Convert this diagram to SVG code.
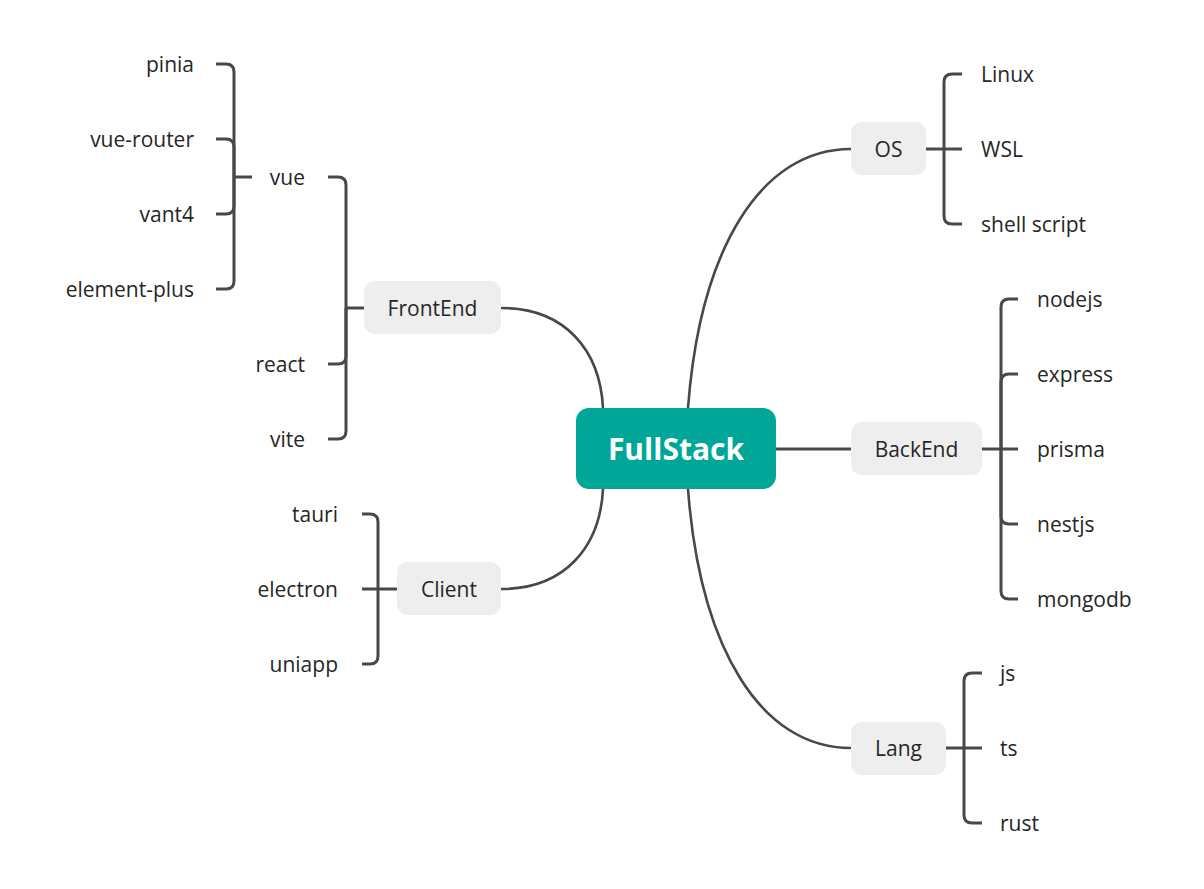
<svg xmlns="http://www.w3.org/2000/svg" width="1204" height="889" viewBox="0 0 1204 889">
<style>
.bg{fill:#ffffff}
.ln{fill:none;stroke:#484848;stroke-width:3;stroke-linecap:butt;stroke-linejoin:round}
.cv{fill:none;stroke:#484848;stroke-width:2.6}
.box{fill:#eeeeee}
.root{fill:#00a698}
.t{font-family:"Open Sans","Noto Sans","Liberation Sans",sans-serif;font-size:21px;fill:#262626}
.m{text-anchor:middle}
.e{text-anchor:end}
.rt{font-family:"Open Sans","Noto Sans","Liberation Sans",sans-serif;font-size:30px;font-weight:bold;fill:#ffffff;text-anchor:middle}
</style>
<rect class="bg" x="0" y="0" width="1204" height="889"/>
<g id="connectors">
<path class="cv" d="M688,408 C700,250 760,149 851,149"/>
<path class="cv" d="M688,489 C700,647 760,748 851,748"/>
<path class="cv" d="M603,408 C600,350 565,308 501,308"/>
<path class="cv" d="M603,489 C600,547 565,589 501,589"/>
<path class="ln" d="M776,449 H851"/>
<path class="ln" d="M926,149 H944"/>
<path class="ln" d="M944,149 V82 Q944,74 952,74 H962"/>
<path class="ln" d="M944,149 H962"/>
<path class="ln" d="M944,149 V216 Q944,224 952,224 H962"/>
<path class="ln" d="M982,449 H1001"/>
<path class="ln" d="M1001,449 V307 Q1001,299 1009,299 H1018"/>
<path class="ln" d="M1001,449 V382 Q1001,374 1009,374 H1018"/>
<path class="ln" d="M1001,449 H1018"/>
<path class="ln" d="M1001,449 V516 Q1001,524 1009,524 H1018"/>
<path class="ln" d="M1001,449 V591 Q1001,599 1009,599 H1018"/>
<path class="ln" d="M946,748 H964"/>
<path class="ln" d="M964,748 V681 Q964,673 972,673 H982"/>
<path class="ln" d="M964,748 H982"/>
<path class="ln" d="M964,748 V815 Q964,823 972,823 H982"/>
<path class="ln" d="M364,308 H346"/>
<path class="ln" d="M346,308 V185 Q346,177 338,177 H328"/>
<path class="ln" d="M346,308 V356 Q346,364 338,364 H328"/>
<path class="ln" d="M346,308 V431 Q346,439 338,439 H328"/>
<path class="ln" d="M252,177 H234"/>
<path class="ln" d="M234,177 V72 Q234,64 226,64 H216"/>
<path class="ln" d="M234,177 V147 Q234,139 226,139 H216"/>
<path class="ln" d="M234,177 V206 Q234,214 226,214 H216"/>
<path class="ln" d="M234,177 V281 Q234,289 226,289 H216"/>
<path class="ln" d="M397,589 H378"/>
<path class="ln" d="M378,589 V522 Q378,514 370,514 H362"/>
<path class="ln" d="M378,589 H362"/>
<path class="ln" d="M378,589 V656 Q378,664 370,664 H362"/>
</g>
<g id="node-fullstack"><rect class="root" x="576" y="408" width="200" height="81" rx="13"/><text class="rt" x="676" y="460">FullStack</text></g>
<g id="node-os"><rect class="box" x="851" y="122" width="75" height="53" rx="11"/><text class="t m" x="888.5" y="156.5">OS</text></g>
<g id="node-backend"><rect class="box" x="851" y="422" width="131" height="53" rx="11"/><text class="t m" x="916.5" y="456.5">BackEnd</text></g>
<g id="node-lang"><rect class="box" x="851" y="722" width="95" height="53" rx="11"/><text class="t m" x="898.5" y="755.5">Lang</text></g>
<g id="node-frontend"><rect class="box" x="364" y="281" width="137" height="53" rx="11"/><text class="t m" x="432.5" y="315.5">FrontEnd</text></g>
<g id="node-client"><rect class="box" x="397" y="562" width="104" height="53" rx="11"/><text class="t m" x="449" y="596.5">Client</text></g>
<g id="node-linux"><text class="t" x="981" y="81.5">Linux</text></g>
<g id="node-wsl"><text class="t" x="981" y="156.5">WSL</text></g>
<g id="node-shell"><text class="t" x="981" y="231.5">shell script</text></g>
<g id="node-nodejs"><text class="t" x="1037" y="306.5">nodejs</text></g>
<g id="node-express"><text class="t" x="1037" y="381.5">express</text></g>
<g id="node-prisma"><text class="t" x="1037" y="456.5">prisma</text></g>
<g id="node-nestjs"><text class="t" x="1037" y="531.5">nestjs</text></g>
<g id="node-mongodb"><text class="t" x="1037" y="606.5">mongodb</text></g>
<g id="node-js"><text class="t" x="1000" y="680.5">js</text></g>
<g id="node-ts"><text class="t" x="1000" y="755.5">ts</text></g>
<g id="node-rust"><text class="t" x="1000" y="830.5">rust</text></g>
<g id="node-vue"><text class="t e" x="305" y="184.5">vue</text></g>
<g id="node-react"><text class="t e" x="305" y="371.5">react</text></g>
<g id="node-vite"><text class="t e" x="305" y="446.5">vite</text></g>
<g id="node-pinia"><text class="t e" x="194" y="71.5">pinia</text></g>
<g id="node-vue-router"><text class="t e" x="194" y="146.5">vue-router</text></g>
<g id="node-vant4"><text class="t e" x="194" y="221.5">vant4</text></g>
<g id="node-element-plus"><text class="t e" x="194" y="296.5">element-plus</text></g>
<g id="node-tauri"><text class="t e" x="338" y="521.5">tauri</text></g>
<g id="node-electron"><text class="t e" x="338" y="596.5">electron</text></g>
<g id="node-uniapp"><text class="t e" x="338" y="671.5">uniapp</text></g>
</svg>
